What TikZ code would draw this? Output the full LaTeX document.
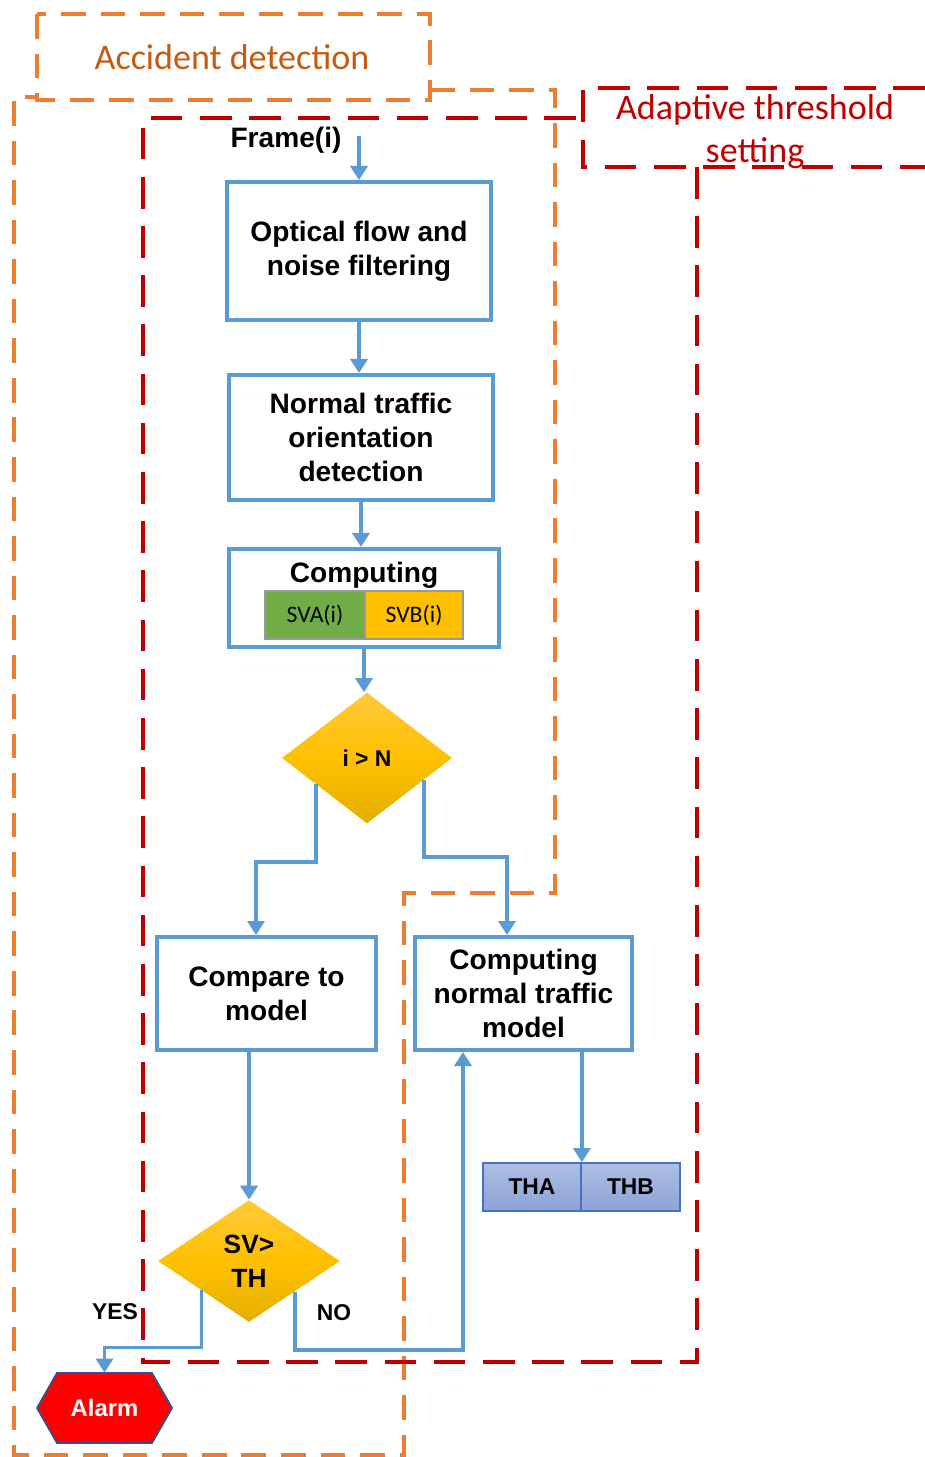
\documentclass[tikz,border=0pt]{standalone}
\usepackage{fontspec}
\setmainfont{Liberation Sans}
\newfontfamily\calib{Carlito}
\usetikzlibrary{shapes.geometric,arrows.meta,calc}
\definecolor{boxblue}{HTML}{5B9BD5}
\definecolor{orng}{HTML}{ED7D31}
\definecolor{orngtext}{HTML}{C55A11}
\definecolor{darkred}{HTML}{C00000}
\definecolor{sgreen}{HTML}{70AD47}
\definecolor{syellow}{HTML}{FFC000}
\definecolor{goldtop}{HTML}{FFCA3A}
\definecolor{goldbot}{HTML}{E3AF00}
\definecolor{thtop}{HTML}{AEBEE3}
\definecolor{thbot}{HTML}{8CA3D8}
\definecolor{thborder}{HTML}{4472C4}
\definecolor{alarmborder}{HTML}{2F528F}
\tikzset{
  orngdash/.style={draw=orng, line width=2.3pt, dash pattern=on 14pt off 8.5pt},
  reddash/.style={draw=darkred, line width=2.3pt, dash pattern=on 18pt off 10pt},
  mainfont/.style={font=\fontsize{16}{19.3}\selectfont\bfseries},
  flowbox/.style={draw=boxblue, line width=2.3pt, fill=white, rectangle, align=center, inner sep=0pt, mainfont},
  svbox/.style={rectangle, draw=black!40, line width=0.6pt, inner sep=0pt, font=\calib\fontsize{13.5}{16}\selectfont},
  decision/.style={diamond, inner sep=0pt, align=center, shading=axis, top color=goldtop, bottom color=goldbot, middle color=syellow},
  thbox/.style={rectangle, draw=thborder, line width=1pt, inner sep=0pt, top color=thtop, bottom color=thbot, font=\fontsize{13}{16}\selectfont\bfseries},
  arr/.style={draw=boxblue, line width=2.2pt, -{Triangle[width=0.34cm,length=0.28cm]}},
  smalllab/.style={font=\fontsize{13}{16}\selectfont\bfseries},
}
\begin{document}
\begin{tikzpicture}[x=0.02cm,y=-0.02cm]
\useasboundingbox (0,0) rectangle (925,1457);

% Accident detection region
\draw[orngdash] (37,14) rectangle (430,100);
\draw[orngdash] (430,90) -- (555,90) -- (555,893) -- (404,893) -- (404,1455) -- (14,1455) -- (14,97) -- (37,97);
\node[font=\calib\fontsize{20.5}{24}\selectfont, text=orngtext] (acclab) at (232,57) {Accident detection};

% Adaptive threshold region
\draw[reddash] (925,88) -- (583,88) -- (583,167) -- (925,167);
\draw[reddash] (697,167) -- (697,1362) -- (143,1362) -- (143,118) -- (583,118);
\node[font=\calib\fontsize{20.5}{24.4}\selectfont, text=darkred, align=center] (adalab) at (755,132) {Adaptive threshold\\setting};

% Input
\node[mainfont] (frame) at (286,140) {Frame(i)};
\coordinate (fin) at (359,136);

% Boxes
\node[flowbox, minimum width=5.28cm, minimum height=2.76cm] (box1) at (359,251) {Optical flow and\\noise filtering};
\node[flowbox, minimum width=5.28cm, minimum height=2.5cm] (box2) at (361,437.5) {Normal traffic\\orientation\\detection};
\node[flowbox, minimum width=5.4cm, minimum height=1.96cm] (box3) at (364,598) {};
\node[mainfont] (comp) at (364,575) {Computing};
\node[svbox, fill=sgreen, minimum width=2cm, minimum height=0.96cm] (sva) at (315,615) {SVA(i)};
\node[svbox, fill=syellow, minimum width=1.96cm, minimum height=0.96cm] (svb) at (414,615) {SVB(i)};

\node[decision, minimum width=3.4cm, minimum height=2.62cm, font=\fontsize{13}{16}\selectfont\bfseries] (d1) at (367,758) {i > N};

\node[flowbox, minimum width=4.38cm, minimum height=2.26cm] (box4) at (266.5,993.5) {Compare to\\model};
\node[flowbox, minimum width=4.34cm, minimum height=2.26cm] (box5) at (523.5,993.5) {Computing\\normal traffic\\model};

\node[decision, minimum width=3.64cm, minimum height=2.44cm, font=\fontsize{15}{19.3}\selectfont\bfseries] (d2) at (249,1261) {SV>\\TH};

\node[thbox, minimum width=1.96cm, minimum height=0.96cm] (tha) at (532,1187) {THA};
\node[thbox, minimum width=1.98cm, minimum height=0.96cm] (thb) at (630.5,1187) {THB};

% Alarm
\draw[fill=red, draw=alarmborder, line width=1pt] (37,1408) -- (57,1373) -- (152,1373) -- (172,1408) -- (152,1443) -- (57,1443) -- cycle;
\node[text=white, font=\fontsize{13.6}{16}\selectfont\bfseries, minimum width=2.7cm, minimum height=1.4cm, inner sep=0pt] (alarm) at (104.5,1408) {Alarm};

% Labels
\node[smalllab] (yes) at (115,1312) {YES};
\node[smalllab] (no) at (334,1313) {NO};

% Connectors
\draw[arr] (fin) -- (box1.north);
\draw[arr] (box1.south) -- (box1.south |- box2.north);
\draw[arr] (box2.south) -- (box2.south |- box3.north);
\draw[arr] (box3.south) -- (box3.south |- d1.north);
\draw[arr] ($(d1.west)!0.4!(d1.south)$) -- ++(0,78) -| ([xshift=-0.21cm]box4.north);
\draw[arr] ($(d1.east)!0.33!(d1.south)$) -- ++(0,77) -| ([xshift=-0.33cm]box5.north);
\draw[arr] (box4.south -| d2.north) -- (d2.north);
\draw[arr] ($(d2.west)!0.48!(d2.south)$) -- ++(0,57) -| (alarm.north);
\draw[arr] ($(d2.east)!0.5!(d2.south)$) -- ++(0,58) -| ([xshift=-1.21cm]box5.south);
\draw[arr] (tha.north east |- box5.south) -- (tha.north east);
\end{tikzpicture}
\end{document}
